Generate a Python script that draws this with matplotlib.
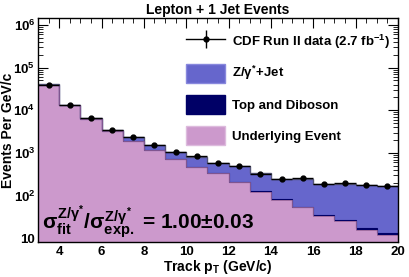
import matplotlib
matplotlib.use("Agg")
import matplotlib.pyplot as plt
import numpy as np
from matplotlib.ticker import MultipleLocator, LogLocator, NullFormatter, FuncFormatter
from matplotlib.patches import Patch
from matplotlib.lines import Line2D

plt.rcParams['font.family'] = ['Liberation Sans', 'DejaVu Sans']
plt.rcParams['font.weight'] = 'bold'
plt.rcParams['mathtext.fontset'] = 'custom'
plt.rcParams['mathtext.rm'] = 'Liberation Sans:bold'
plt.rcParams['mathtext.it'] = 'Liberation Sans:bold'
plt.rcParams['mathtext.bf'] = 'Liberation Sans:bold'

bin_edges = [3, 4, 5, 6, 7, 8, 9, 10, 11, 12, 13, 14, 15, 16, 17, 18, 19, 20]
data_x = [3.5, 4.5, 5.5, 6.5, 7.5, 8.5, 9.5, 10.5, 11.5, 12.5, 13.5, 14.5, 15.5, 16.5, 17.5, 18.5, 19.5]
data_y = [40000, 13000, 6500, 3400, 2350, 1500, 1050, 830, 580, 490, 330, 250, 260, 190, 198, 178, 172]
data_err = [200, 115, 80, 58, 48, 39, 32, 29, 24, 22, 18, 16, 16, 14, 14, 13, 13]
underlying = [40000, 13000, 6300, 3200, 1900, 1150, 720, 460, 340, 210, 124, 81, 53, 34, 25, 16, 12]
top_diboson = [5, 5, 5, 4, 4, 4, 3, 3, 3, 3, 2, 2, 2, 2, 1.5, 1.2, 1.2]
zjet = [300, 250, 250, 250, 470, 360, 330, 350, 235, 280, 206, 168, 190, 155, 160, 158, 155]

labels = ["CDF Run II data (2.7 fb$^{-1}$)", "Z/$\\gamma^{*}$+Jet", "Top and Diboson", "Underlying Event"]

c_ue = '#cc99cc'
c_td = '#000066'
c_z = '#6666cc'

fig = plt.figure(figsize=(4.09, 2.77), dpi=100)
ax = fig.add_axes([0.093, 0.126, 0.880, 0.809])

edges = np.array(bin_edges, dtype=float)
ue = np.array(underlying, dtype=float)
td = np.array(top_diboson, dtype=float)
zj = np.array(zjet, dtype=float)
lvl1 = ue
lvl2 = ue + td
lvl3 = ue + td + zj

ax.stairs(lvl3, edges, baseline=lvl2, fill=True, color=c_z, zorder=2)
ax.stairs(lvl3, edges, baseline=None, color='#555577', lw=1.0, zorder=3)
ax.stairs(lvl2, edges, baseline=lvl1, fill=True, color=c_td, zorder=2)
ax.stairs(lvl2, edges, baseline=None, color=c_td, lw=0.8, zorder=3)
ax.stairs(lvl1, edges, baseline=1, fill=True, color=c_ue, zorder=2)
ax.stairs(lvl1, edges, baseline=None, color='#996699', lw=0.6, zorder=3)

xerr = [[0.5] * len(data_x), [0.5] * len(data_x)]
ax.errorbar(data_x, data_y, xerr=xerr, yerr=data_err, fmt='o', color='black',
            ms=3.5, lw=1.0, capsize=0, zorder=5)

ax.set_yscale('log')
ax.set_xlim(3, 20)
ax.set_ylim(8.2, 1.45e6)

def yfmt(v, pos):
    n = int(round(np.log10(v)))
    if n == 1:
        return "10"
    return "10$^{%d}$" % n

ax.xaxis.set_major_locator(MultipleLocator(2))
ax.xaxis.set_minor_locator(MultipleLocator(0.5))
ax.yaxis.set_major_locator(LogLocator(base=10, numticks=10))
ax.yaxis.set_major_formatter(FuncFormatter(yfmt))
ax.yaxis.set_minor_locator(LogLocator(base=10, subs=np.arange(2, 10), numticks=20))
ax.yaxis.set_minor_formatter(NullFormatter())
ax.tick_params(which='both', direction='in', top=True, right=True, labelsize=9.5)
ax.tick_params(which='major', length=7, width=0.8)
ax.tick_params(which='minor', length=3.5, width=0.6)
ax.tick_params(axis='y', pad=2)
ax.tick_params(axis='x', pad=3)
for lab in ax.get_xticklabels() + ax.get_yticklabels():
    lab.set_fontweight('bold')
for s in ax.spines.values():
    s.set_linewidth(1.0)
    s.set_zorder(10)

ax.set_xlabel("Track p$_{\\mathrm{T}}$ (GeV/c)", fontsize=10, fontweight='bold', labelpad=0)
ax.set_ylabel("Events Per GeV/c", fontsize=10, fontweight='bold')
ax.yaxis.set_label_coords(-0.064, 0.5)
ax.set_title("Lepton + 1 Jet Events", fontsize=10, fontweight='bold', pad=3)

ax.text(3.2, 16.5, "$\\sigma^{Z/\\gamma^{*}}_{fit}$/$\\sigma^{Z/\\gamma^{*}}_{exp.}$ = 1.00$\\pm$0.03",
        fontsize=15, fontweight='bold', zorder=6)

data_handle = (Line2D([0], [0], color='black', lw=1.0, marker='o', ms=3.5),
               Line2D([0], [0], color='black', marker='|', ms=13, mew=1.0, linestyle='none'))
handles = [
    data_handle,
    Patch(facecolor=c_z, edgecolor='#8888dd'),
    Patch(facecolor=c_td, edgecolor=c_td),
    Patch(facecolor=c_ue, edgecolor='#ddbbdd'),
]
leg = ax.legend(handles, labels, loc='upper right', bbox_to_anchor=(1.0, 0.97), frameon=False,
                handlelength=2.9, handleheight=1.8, labelspacing=0.95,
                borderaxespad=0.2, handletextpad=0.55, prop={'weight': 'bold', 'size': 9.5})
leg.set_zorder(8)

fig.savefig("out.png", dpi=100)
